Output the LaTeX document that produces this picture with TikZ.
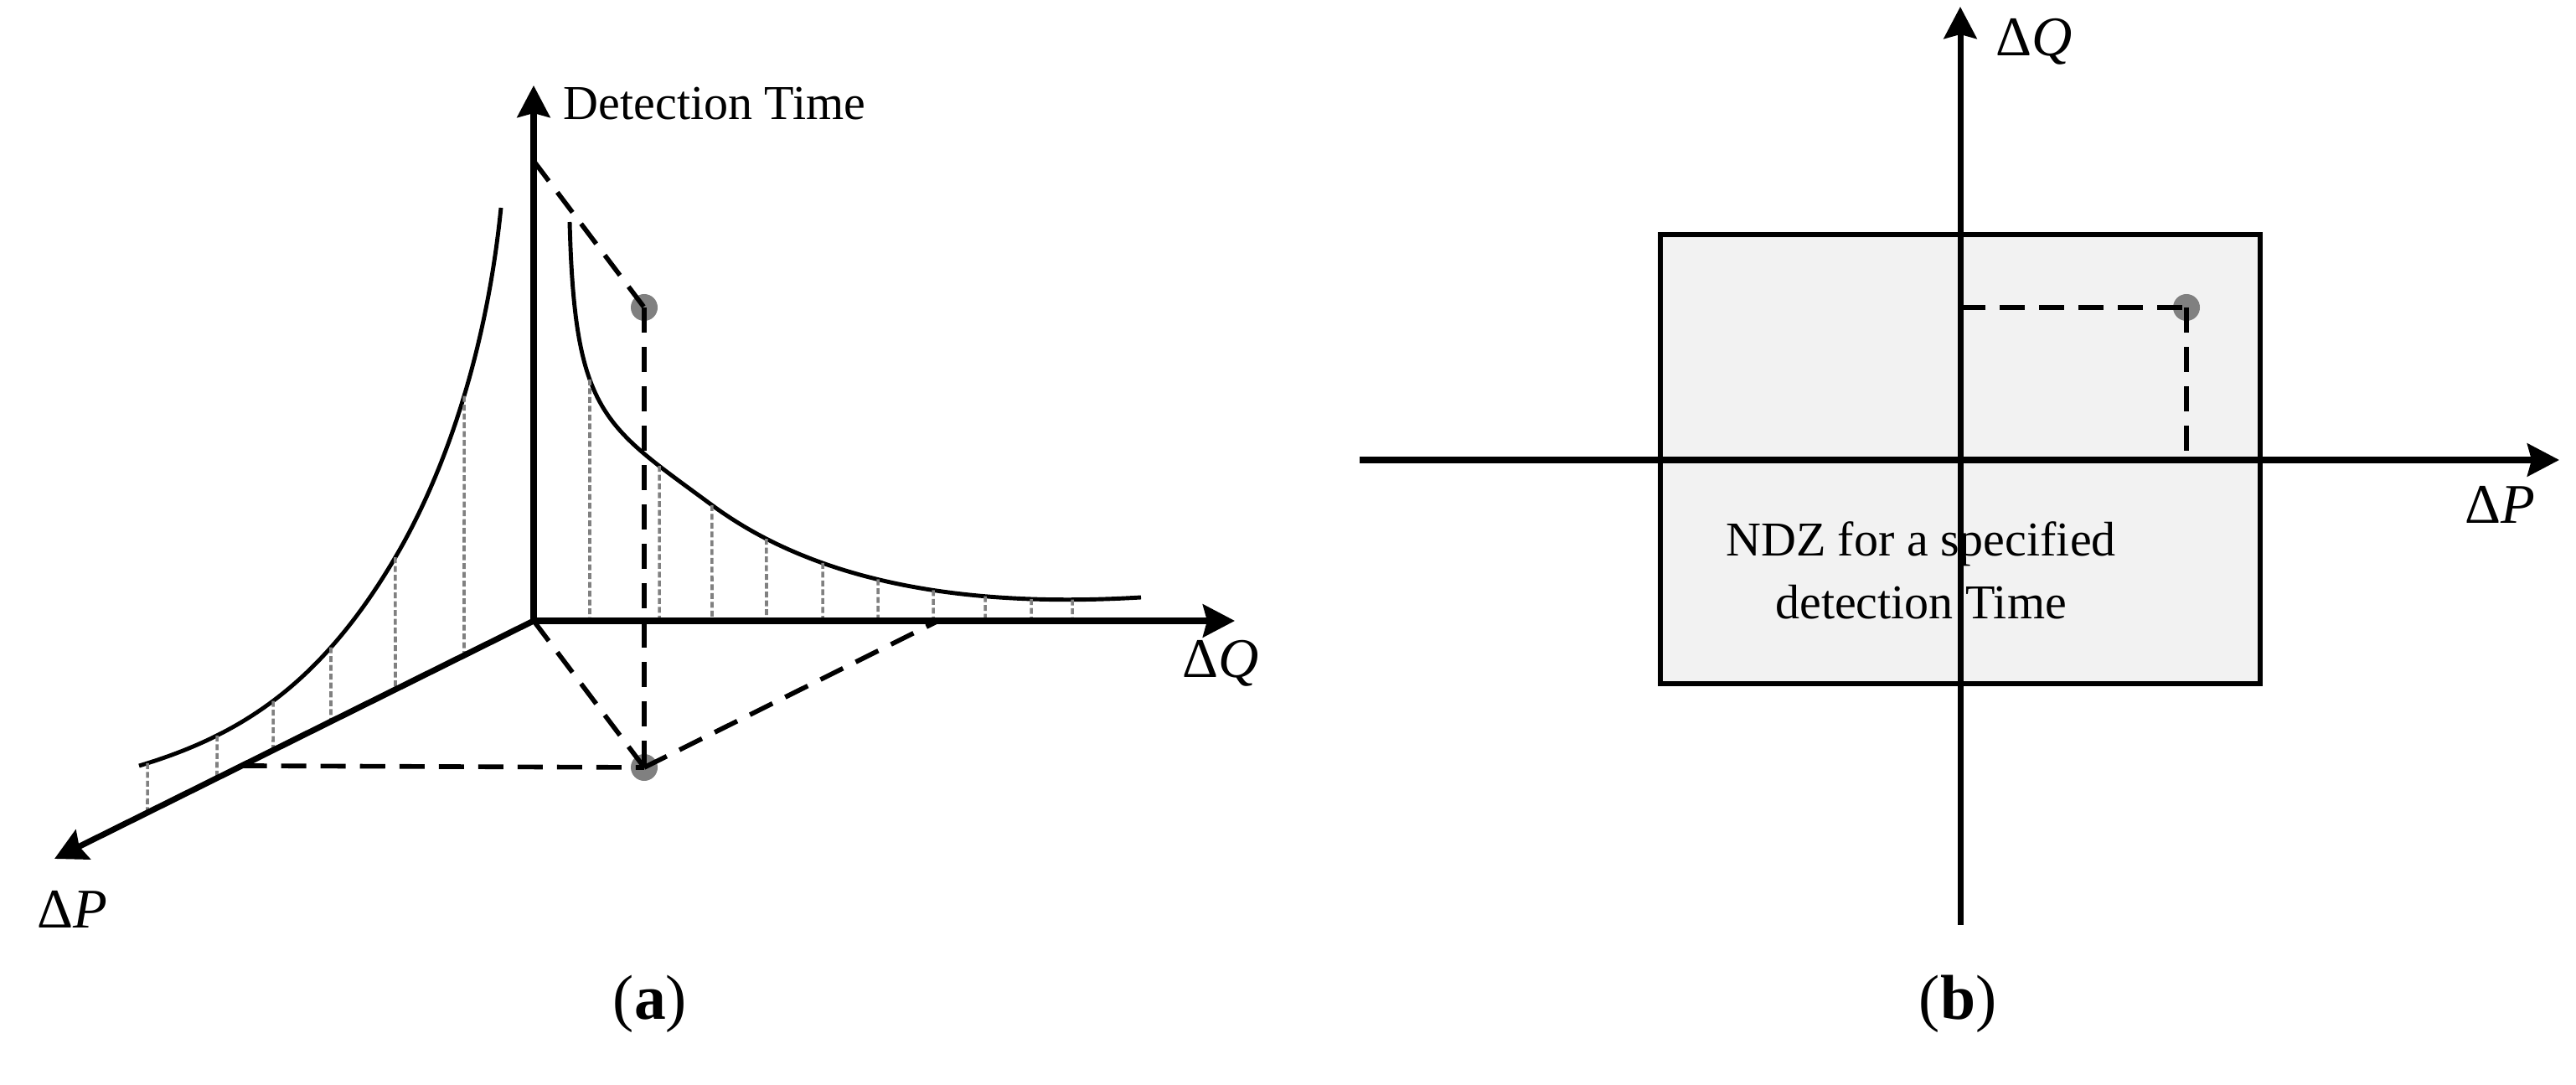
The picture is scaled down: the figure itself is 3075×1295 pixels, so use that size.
\documentclass[tikz,border=0pt]{standalone}
\usepackage{fontspec}
\setmainfont{Liberation Serif}
\usetikzlibrary{arrows.meta,calc,intersections}
\definecolor{dotgray}{RGB}{128,128,128}
\definecolor{hatchgray}{RGB}{128,128,128}
\definecolor{zonefill}{RGB}{242,242,242}
\begin{document}
\begin{tikzpicture}[x=0.01cm,y=-0.01cm,
  axis/.style={line width=2pt,-{Stealth[length=0.38cm,width=0.39cm,inset=0.05cm]}},
  curve/.style={line width=1.4pt},
  guide/.style={line width=1.6pt,dash pattern=on 0.3cm off 0.17cm},
  hatch/.style={line width=1pt,hatchgray,dash pattern=on 0.07cm off 0.035cm},
  dotmark/.style={circle,fill=dotgray,inner sep=0pt,minimum size=0.32cm},
  lbl/.style={font=\fontsize{16.5}{20}\selectfont,inner sep=0pt},
  axlbl/.style={font=\fontsize{19}{22}\selectfont,inner sep=0pt},
  captext/.style={font=\fontsize{21.5}{25}\selectfont,inner sep=0pt}
]
\useasboundingbox (0,0) rectangle (3075,1295);

% ---------------- panel (a) ----------------
\coordinate (O) at (637,741);
\coordinate (Tt) at (637,102);
\coordinate (Qt) at (1474,741);
\coordinate (Pt) at (65,1025);
\coordinate (Ta) at (637,192);
\coordinate (Qa) at (1120,741);
\coordinate (Pa) at ($(O)!0.609!(Pt)$);

% curves
\draw[curve,name path=lc] (166,914) .. controls (286,878) and (382,818) .. (472,665)
  .. controls (532,563) and (581,418) .. (598,248);
\draw[curve,name path=rc] (680,265) .. controls (686,495) and (720,507) .. (850,603)
  .. controls (980,699) and (1162,725) .. (1362,713);

% gray hatch lines, left curve down to the Delta P axis
\foreach \x in {176,259,326,395,472,554} {
  \path[name path=vl] (\x,100) -- (\x,1100);
  \draw[hatch,name intersections={of=lc and vl,by=hp}] (hp) -- (\x,{741+(637-\x)*0.4965});
}
% gray hatch lines, right curve down to the Delta Q axis
\foreach \x in {704,787,850,915,982,1048,1114,1176,1231,1280} {
  \path[name path=vr] (\x,100) -- (\x,1100);
  \draw[hatch,name intersections={of=rc and vr,by=hq}] (hq) -- (\x,741);
}

% dots
\node[dotmark] (Dtop) at (769,367) {};
\node[dotmark] (Dbot) at (769,916) {};

% dashed guides
\draw[guide] (Ta) -- (Dtop.center);
\draw[guide] (Dtop.center) -- (Dbot.center);
\draw[guide] (O) -- (Dbot.center);
\draw[guide] (Dbot.center) -- (Qa);
\draw[guide] (Pa) -- (Dbot.center);

% axes
\draw[axis] (O) -- (Tt);
\draw[axis] (O) -- (Qt);
\draw[axis] (O) -- (Pt);

% labels
\node[lbl,anchor=base west] (tlab) at (672,143) {Detection Time};
\node[axlbl,anchor=base] (qlab) at (1457,809) {Δ\textit{Q}};
\node[axlbl,anchor=base] (plab) at (86,1108) {Δ\textit{P}};
\node[captext,anchor=base] (capa) at (776,1217) {(\textbf{a})};

% ---------------- panel (b) ----------------
\coordinate (O2) at (2340,549);
\coordinate (B2) at (2340,1104);
\coordinate (T2) at (2340,8);
\coordinate (L2) at (1623,549);
\coordinate (R2) at (3055,549);

\draw[line width=1.7pt,fill=zonefill] (1982,280) rectangle (2698,816);
\node[lbl,anchor=base] (ndz1) at (2293,664) {NDZ for a specified};
\node[lbl,anchor=base] (ndz2) at (2293,739) {detection Time};

\node[dotmark] (D2) at (2610,367) {};
\coordinate (D2q) at (2340,367);
\coordinate (D2p) at (2610,549);
\draw[guide] (D2q) -- (D2.center);
\draw[guide] (D2.center) -- (D2p);

\draw[axis] (B2) -- (T2);
\draw[axis] (L2) -- (R2);

\node[axlbl,anchor=base] (qlab2) at (2428,67) {Δ\textit{Q}};
\node[axlbl,anchor=base] (plab2) at (2984,625) {Δ\textit{P}};
\node[captext,anchor=base] (capb) at (2337,1217) {(\textbf{b})};
\end{tikzpicture}
\end{document}
